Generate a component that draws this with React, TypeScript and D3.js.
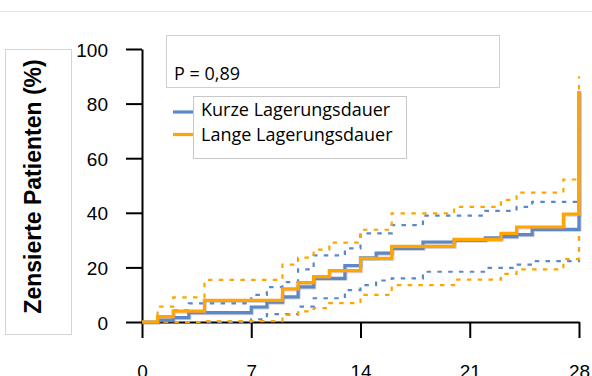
import React, { useEffect, useRef } from "react";
import * as d3 from "d3";

// axis ticks
const xTicks = [0, 7, 14, 21, 28];
const yTicks = [0, 20, 40, 60, 80, 100];

// Kurze Lagerungsdauer (blue)
const kurzeDays = [0, 1, 2, 3, 7, 8, 9, 10, 11, 13, 14, 15, 16, 18, 20, 22, 23, 24, 25, 28];
const kurzeValues = [0, 0.7, 1.6, 3.4, 5.5, 7.3, 9.2, 12.9, 16.0, 20.7, 23.5, 25.2, 27.0, 29.3, 30.0, 30.8, 31.3, 32.0, 33.9, 84.5];
const kurzeUpperDays = [0, 1, 2, 3, 7, 8, 9, 10, 11, 13, 14, 16, 18, 22, 24, 25, 28];
const kurzeUpper = [0, 2.2, 4.3, 6.8, 9.9, 12.8, 14.6, 19.3, 24.4, 27.0, 32.5, 35.5, 39.0, 40.7, 42.2, 44.0, 84.5];
const kurzeLowerDays = [0, 7, 8, 10, 11, 13, 14, 15, 16, 18, 22, 24, 25, 28];
const kurzeLower = [0, 1.0, 2.9, 5.6, 8.7, 11.7, 13.5, 15.2, 16.0, 18.4, 19.8, 21.0, 22.3, 84.5];

// Lange Lagerungsdauer (orange)
const langeDays = [0, 1, 2, 4, 9, 10, 11, 12, 14, 16, 20, 23, 24, 27, 28];
const langeValues = [0, 2.0, 4.0, 7.9, 12.1, 14.4, 16.6, 18.8, 23.3, 27.7, 30.3, 32.5, 34.8, 39.5, 84.5];
const langeUpperDays = [0, 1, 2, 4, 9, 10, 11, 12, 14, 16, 20, 23, 24, 27, 28];
const langeUpper = [0, 5.6, 9.0, 15.4, 21.0, 23.6, 26.5, 29.1, 33.8, 39.8, 42.2, 44.7, 47.4, 52.2, 90.0];
const langeLowerDays = [0, 4, 9, 10, 11, 12, 14, 16, 20, 23, 24, 27, 28];
const langeLower = [0, 0.3, 2.6, 3.9, 5.1, 6.9, 9.9, 13.5, 15.5, 17.6, 19.3, 23.0, 84.5];

const seriesNames = ["Kurze Lagerungsdauer", "Lange Lagerungsdauer"];
const yTitle = "Zensierte Patienten (%)";
const pText = "P = 0,89";

const blue = "#5b88c8";
const orange = "#ffa500";

const zip = (days: number[], vals: number[]) => days.map((d, i) => [d, vals[i]] as [number, number]);

export default function App() {
  const ref = useRef<SVGSVGElement>(null);

  useEffect(() => {
    const svg = d3.select(ref.current);
    svg.selectAll("*").remove();

    const x = d3.scaleLinear().domain([0, 28]).range([142, 579]);
    const y = d3.scaleLinear().domain([0, 100]).range([322, 49]);

    const defs = svg.append("defs");
    defs
      .append("filter")
      .attr("id", "shadow")
      .attr("x", "-5%")
      .attr("y", "-5%")
      .attr("width", "110%")
      .attr("height", "110%")
      .append("feDropShadow")
      .attr("dx", 0.8)
      .attr("dy", 0.8)
      .attr("stdDeviation", 0.7)
      .attr("flood-color", "#888")
      .attr("flood-opacity", 0.45);

    // thin line at the top
    svg.append("line")
      .attr("x1", 0).attr("x2", 592).attr("y1", 11.5).attr("y2", 11.5)
      .attr("stroke", "#e4e4e4");

    // y title box
    svg.append("rect")
      .attr("x", 5.5).attr("y", 49.5).attr("width", 66).attr("height", 285)
      .attr("fill", "none").attr("stroke", "#d4d4d4");
    svg.append("text")
      .attr("transform", "translate(41,186.5) rotate(-90)")
      .attr("text-anchor", "middle")
      .attr("font-family", "Liberation Sans, Arial, sans-serif")
      .attr("font-weight", "bold")
      .attr("font-size", 23)
      .attr("fill", "#000")
      .text(yTitle);

    // P box
    svg.append("rect")
      .attr("x", 166.5).attr("y", 35.5).attr("width", 333).attr("height", 52)
      .attr("fill", "#fff").attr("stroke", "#d0d0d0");
    svg.append("text")
      .attr("x", 174).attr("y", 80)
      .attr("font-family", "Open Sans, sans-serif")
      .attr("font-size", 18)
      .attr("fill", "#000")
      .text(pText);

    // axes
    const yAxis = d3.axisLeft(y).tickValues(yTicks).tickSize(16).tickSizeOuter(0).tickPadding(18);
    const xAxis = d3.axisBottom(x).tickValues(xTicks).tickSize(16).tickSizeOuter(0).tickPadding(27);

    const gy = svg.append("g").attr("transform", "translate(142,0)").call(yAxis);
    const gx = svg.append("g").attr("transform", "translate(0,322)").call(xAxis);
    [gy, gx].forEach((g) => {
      g.attr("font-family", "Liberation Sans, Arial, sans-serif").attr("font-size", 19);
      g.select(".domain").attr("stroke", "#000").attr("stroke-width", 2);
      g.selectAll(".tick line").attr("stroke", "#000").attr("stroke-width", 2);
      g.selectAll(".tick text").attr("fill", "#000");
    });
    gy.selectAll(".tick text").attr("dy", "0.37em");

    const line = d3
      .line<[number, number]>()
      .x((d) => x(d[0]))
      .y((d) => y(d[1]))
      .curve(d3.curveStepAfter);

    const dashed = [
      { data: zip(kurzeUpperDays, kurzeUpper), color: blue },
      { data: zip(kurzeLowerDays, kurzeLower), color: blue },
      { data: zip(langeUpperDays, langeUpper), color: orange },
      { data: zip(langeLowerDays, langeLower), color: orange },
    ];
    dashed.forEach((s) => {
      svg.append("path")
        .attr("d", line(s.data))
        .attr("fill", "none")
        .attr("stroke", s.color)
        .attr("stroke-width", 2.2)
        .attr("stroke-dasharray", "4.5 6.3");
    });

    const mains = [
      { data: zip(kurzeDays, kurzeValues), color: blue },
      { data: zip(langeDays, langeValues), color: orange },
    ];
    mains.forEach((s) => {
      svg.append("path")
        .attr("d", line(s.data))
        .attr("fill", "none")
        .attr("stroke", s.color)
        .attr("stroke-width", 3.2)
        .attr("filter", "url(#shadow)");
    });

    // legend
    svg.append("rect")
      .attr("x", 193.5).attr("y", 96.5).attr("width", 213).attr("height", 62)
      .attr("fill", "#fff").attr("stroke", "#c8c8c8");
    const legendColors = [blue, orange];
    seriesNames.forEach((name, i) => {
      const ly = 112 + i * 22.5;
      svg.append("line")
        .attr("x1", 173).attr("x2", 193).attr("y1", ly).attr("y2", ly)
        .attr("stroke", legendColors[i]).attr("stroke-width", 3.2);
      svg.append("text")
        .attr("x", 201).attr("y", 116 + i * 25)
        .attr("font-family", "Open Sans, sans-serif")
        .attr("font-size", 18)
        .attr("fill", "#000")
        .text(name);
    });
  }, []);

  return (
    <svg
      ref={ref}
      width={592}
      height={376}
      style={{ position: "absolute", left: 0, top: 0, background: "#fff" }}
    />
  );
}
